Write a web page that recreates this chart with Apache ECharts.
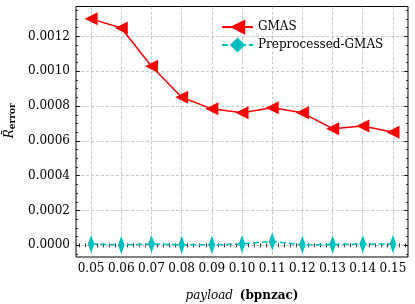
<!DOCTYPE html>
<html><head><meta charset="utf-8">
<script src="https://cdn.jsdelivr.net/npm/echarts@6/dist/echarts.min.js"></script>
<style>html,body{margin:0;padding:0;background:#fff}#c{width:415px;height:304px}</style>
</head><body><div id="c"></div>
<script>
const payload = [0.05,0.06,0.07,0.08,0.09,0.10,0.11,0.12,0.13,0.14,0.15];
const gmas = [0.001301,0.001249,0.001029,0.000851,0.000784,0.000761,0.000790,0.000761,0.000670,0.000685,0.000650];
const preGmas = [0.000008,0.000002,0.000008,0.000003,0.000003,0.000008,0.000022,0.000003,0.000005,0.000008,0.000007];
const xTickLabels = ['0.05','0.06','0.07','0.08','0.09','0.10','0.11','0.12','0.13','0.14','0.15'];
const yTickLabels = ['0.0000','0.0002','0.0004','0.0006','0.0008','0.0010','0.0012'];

const xMajor = xTickLabels.map(Number);
const yMajor = yTickLabels.map(Number);
const xMinor = []; for (let k = 23; k <= 77; k++) xMinor.push(+(k*0.002).toFixed(4));
const yMinor = []; for (let k = -1; k <= 27; k++) yMinor.push(+(k*0.00005).toFixed(6));

const FONT = 'DejaVu Serif';
const XMIN = 0.045, XMAX = 0.155, YMIN = -0.000067, YMAX = 0.001372;
const gridLine = {show:true, lineStyle:{color:'#b8b8b8', width:0.8, type:[3,2]}};

function xAx(pos, vals, len, opts) {
  return Object.assign({type:'value', min:XMIN, max:XMAX, position:pos,
    axisLine:{show:false}, splitLine:{show:false}, axisLabel:{show:false},
    axisTick:{show:true, inside:true, length:len, customValues:vals, lineStyle:{color:'#000', width:0.8}}}, opts||{});
}
function yAx(pos, vals, len, opts) {
  return Object.assign({type:'value', min:YMIN, max:YMAX, position:pos,
    axisLine:{show:false}, splitLine:{show:false}, axisLabel:{show:false},
    axisTick:{show:true, inside:true, length:len, customValues:vals, lineStyle:{color:'#000', width:0.8}}}, opts||{});
}

const chart = echarts.init(document.getElementById('c'));
chart.setOption({
  animation:false,
  backgroundColor:'#fff',
  grid:{left:76, right:7, top:6.5, bottom:47, containLabel:false, outerBoundsMode:'none',
        show:true, borderColor:'#000', borderWidth:1, backgroundColor:'transparent'},
  xAxis:[
    xAx('bottom', xMajor, 4, {
      axisLabel:{show:true, customValues:xMajor, margin:6, fontFamily:FONT, fontSize:12, color:'#000',
        formatter:v=>v.toFixed(2)},
      splitLine:Object.assign({}, gridLine, {customValues:xMajor}),
      name:'{i|payload}  {b|(bpnzac)}', nameLocation:'middle', nameGap:33,
      nameTextStyle:{rich:{i:{fontFamily:FONT, fontStyle:'italic', fontSize:12, color:'#000'},
                           b:{fontFamily:FONT, fontWeight:'bold', fontSize:12, color:'#000'}}}
    }),
    xAx('bottom', xMinor, 2),
    xAx('top', xMajor, 4),
    xAx('top', xMinor, 2)
  ],
  yAxis:[
    yAx('left', yMajor, 4, {
      axisLabel:{show:true, customValues:yMajor, margin:6, fontFamily:FONT, fontSize:12, color:'#000',
        formatter:v=>v.toFixed(4)},
      splitLine:Object.assign({}, gridLine, {customValues:yMajor}),
      name:'{r|R\u0304}{s|error}', nameLocation:'middle', nameRotate:90, nameGap:58,
      nameTextStyle:{padding:[0,0,0,22],
        rich:{r:{fontFamily:FONT, fontStyle:'italic', fontSize:12, color:'#000', lineHeight:14},
              s:{fontFamily:FONT, fontWeight:'bold', fontSize:9, color:'#000', verticalAlign:'bottom', padding:[4,0,0,0]}}}
    }),
    yAx('left', yMinor, 2),
    yAx('right', yMajor, 4),
    yAx('right', yMinor, 2)
  ],
  legend:{
    orient:'vertical', left:216, top:14.5, itemWidth:31, itemHeight:19, itemGap:2.7,
    textStyle:{fontFamily:FONT, fontSize:12, color:'#000'},
    data:['GMAS','Preprocessed-GMAS']
  },
  series:[
    {name:'GMAS', type:'line', xAxisIndex:0, yAxisIndex:0,
     data:payload.map((x,i)=>[x,gmas[i]]),
     symbol:'path://M-1,0L1,-1L1,1Z', symbolSize:[13,13], symbolKeepAspect:true,
     itemStyle:{color:'#ff0000'}, lineStyle:{color:'#ff0000', width:1.5}, z:3},
    {name:'Preprocessed-GMAS', type:'line', xAxisIndex:0, yAxisIndex:0,
     data:payload.map((x,i)=>[x,preGmas[i]]),
     symbol:'path://M0,-1L0.6,0L0,1L-0.6,0Z', symbolSize:[11,18], symbolKeepAspect:true,
     itemStyle:{color:'#00bfbf'}, lineStyle:{color:'#00bfbf', width:1.5, type:[6,3]}, z:3}
  ]
});
</script></body></html>
